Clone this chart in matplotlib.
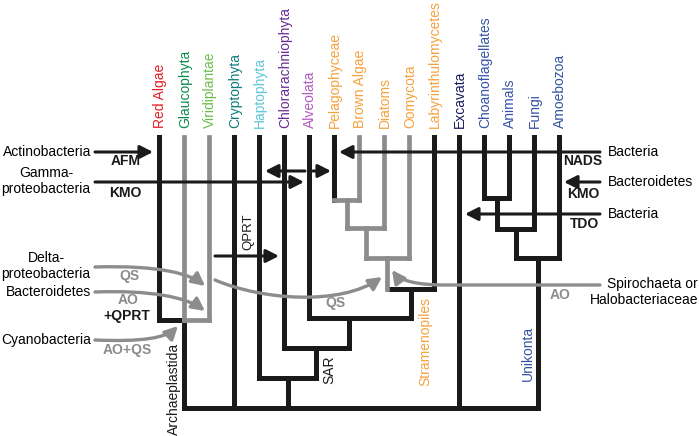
import matplotlib.pyplot as plt
from matplotlib.path import Path
from matplotlib.patches import FancyArrowPatch

plt.rcParams['font.family'] = ['Liberation Sans', 'DejaVu Sans']

# tips of the tree
taxa = ['Red Algae', 'Glaucophyta', 'Viridiplantae', 'Cryptophyta', 'Haptophyta',
        'Chlorarachniophyta', 'Alveolata', 'Pelagophyceae', 'Brown Algae', 'Diatoms',
        'Oomycota', 'Labyrinthulomycetes', 'Excavata', 'Choanoflagellates', 'Animals',
        'Fungi', 'Amoebozoa']
taxa_colors = ['#e31e24', '#0d8a4f', '#6cbf4b', '#107c7c', '#5ec6dc',
               '#6b2c91', '#b05cc0', '#f5a23c', '#f5a23c', '#f5a23c',
               '#f5a23c', '#f5a23c', '#1b1a5e', '#3553a3', '#3553a3',
               '#3553a3', '#3553a3']
tip_x = [159, 184, 209, 234, 259, 284, 309, 334, 359, 384, 409, 434, 459, 484, 509, 534, 559]
tip_top = 137

# tree branches: (x, y_top, y_bottom) verticals and (y, x_left, x_right) horizontals
black_vert = [(159, tip_top, 320), (234, tip_top, 408), (259, tip_top, 378),
              (284, tip_top, 348), (309, tip_top, 318), (334, tip_top, 200),
              (434, tip_top, 289), (459, tip_top, 408), (484, tip_top, 198),
              (509, tip_top, 198), (534, tip_top, 229), (559, tip_top, 258),
              (184, 320, 408), (288, 378, 408), (316, 348, 378), (349, 318, 348),
              (411, 289, 318), (497, 198, 229), (516, 229, 258), (538, 258, 408)]
gray_vert = [(184, tip_top, 320), (209, tip_top, 320), (359, tip_top, 200),
             (384, tip_top, 228), (409, tip_top, 258),
             (347, 200, 228), (366, 228, 258), (387, 258, 289)]
black_horiz = [(320, 159, 184), (408, 184, 538), (378, 259, 316), (348, 284, 349),
               (318, 309, 411), (289, 389, 434), (198, 484, 509), (229, 497, 534),
               (258, 516, 559)]
gray_horiz = [(320, 184, 209), (200, 334, 359), (228, 347, 384), (258, 366, 409)]

# gene transfer arrows (start, tip)
black_arrows = [((95, 152), (153, 152)), ((95, 182), (304, 182)),
                ((305, 171), (265, 171)), ((313, 171), (331, 171)),
                ((215, 256), (279, 256)), ((600, 152), (339, 152)),
                ((600, 182), (564, 182)), ((600, 214), (465, 214))]
gray_curves = [[(95, 267), (160, 265), (190, 274), (205, 286)],
               [(95, 292), (150, 290), (186, 297), (205, 311)],
               [(95, 340), (142, 342), (166, 338), (178, 326)],
               [(215, 280), (262, 300), (340, 306), (382, 277)]]

BLACK = '#1a1a1a'
GRAY = '#8c8c8c'

fig = plt.figure(figsize=(6.99, 4.36), dpi=100)
ax = fig.add_axes([0, 0, 1, 1])
ax.set_xlim(0, 699)
ax.set_ylim(436, 0)
ax.axis('off')

for x, y0, y1 in black_vert:
    ax.plot([x, x], [y0, y1], color=BLACK, lw=3.6, solid_capstyle='projecting', zorder=2)
for y, x0, x1 in black_horiz:
    ax.plot([x0, x1], [y, y], color=BLACK, lw=3.6, solid_capstyle='projecting', zorder=2)
for x, y0, y1 in gray_vert:
    ax.plot([x, x], [y0, y1], color=GRAY, lw=3.4, solid_capstyle='projecting', zorder=3)
for y, x0, x1 in gray_horiz:
    ax.plot([x0, x1], [y, y], color=GRAY, lw=3.4, solid_capstyle='projecting', zorder=3)

astyle = '-|>,head_length=0.55,head_width=0.28'
for start, tip in black_arrows:
    ax.add_patch(FancyArrowPatch(start, tip, arrowstyle=astyle, mutation_scale=14,
                                 color=BLACK, lw=2.2, shrinkA=0, shrinkB=0, zorder=4))

for pts in gray_curves:
    p = Path(pts, [Path.MOVETO, Path.CURVE4, Path.CURVE4, Path.CURVE4])
    ax.add_patch(FancyArrowPatch(path=p, arrowstyle=astyle, mutation_scale=14,
                                 color=GRAY, lw=2.4, zorder=5))
spiro = Path([(600, 285), (445, 285), (418, 285), (400, 281), (392, 270)],
             [Path.MOVETO, Path.LINETO, Path.CURVE4, Path.CURVE4, Path.CURVE4])
ax.add_patch(FancyArrowPatch(path=spiro, arrowstyle=astyle, mutation_scale=14,
                             color=GRAY, lw=2.4, zorder=5))

# tip labels
for name, x, c in zip(taxa, tip_x, taxa_colors):
    ax.text(x + 1, 128, name, rotation=90, rotation_mode='anchor', ha='left',
            va='center', color=c, fontsize=10)

# clade labels
ax.text(174, 343, 'Archaeplastida', rotation=90, rotation_mode='anchor',
        ha='right', va='center', fontsize=10, color=BLACK)
ax.text(329, 355, 'SAR', rotation=90, rotation_mode='anchor',
        ha='right', va='center', fontsize=10, color=BLACK)
ax.text(425, 297, 'Stramenopiles', rotation=90, rotation_mode='anchor',
        ha='right', va='center', fontsize=10, color='#f5a23c')
ax.text(528, 326, 'Unikonta', rotation=90, rotation_mode='anchor',
        ha='right', va='center', fontsize=10, color='#3553a3')
ax.text(248, 232, 'QPRT', rotation=90, ha='center', va='center',
        fontsize=9.5, color=BLACK)

# donor labels
ax.text(91, 152, 'Actinobacteria', ha='right', va='center', fontsize=10)
ax.text(46, 181, 'Gamma-\nproteobacteria', ha='center', va='center',
        multialignment='center', fontsize=10, linespacing=1.15)
ax.text(46, 266, 'Delta-\nproteobacteria', ha='center', va='center',
        multialignment='center', fontsize=10, linespacing=1.15)
ax.text(91, 292, 'Bacteroidetes', ha='right', va='center', fontsize=10)
ax.text(91, 340, 'Cyanobacteria', ha='right', va='center', fontsize=10)
ax.text(608, 152, 'Bacteria', ha='left', va='center', fontsize=10)
ax.text(608, 182, 'Bacteroidetes', ha='left', va='center', fontsize=10)
ax.text(608, 214, 'Bacteria', ha='left', va='center', fontsize=10)
ax.text(698, 292, 'Spirochaeta or\nHalobacteriaceae', ha='right', va='center',
        multialignment='right', fontsize=10, linespacing=1.15)

# gene labels
bold_black = [('AFM', 126, 161), ('KMO', 125, 193), ('+QPRT', 127, 316),
              ('NADS', 583, 161), ('KMO', 583, 194), ('TDO', 584, 224)]
bold_gray = [('QS', 129, 276), ('AO', 128, 300), ('AO+QS', 127, 350),
             ('QS', 335, 303), ('AO', 560, 295)]
for t, x, y in bold_black:
    ax.text(x, y, t, ha='center', va='center', fontsize=10, fontweight='bold', color=BLACK)
for t, x, y in bold_gray:
    ax.text(x, y, t, ha='center', va='center', fontsize=10, fontweight='bold', color=GRAY)

fig.savefig('out.png', dpi=100)
